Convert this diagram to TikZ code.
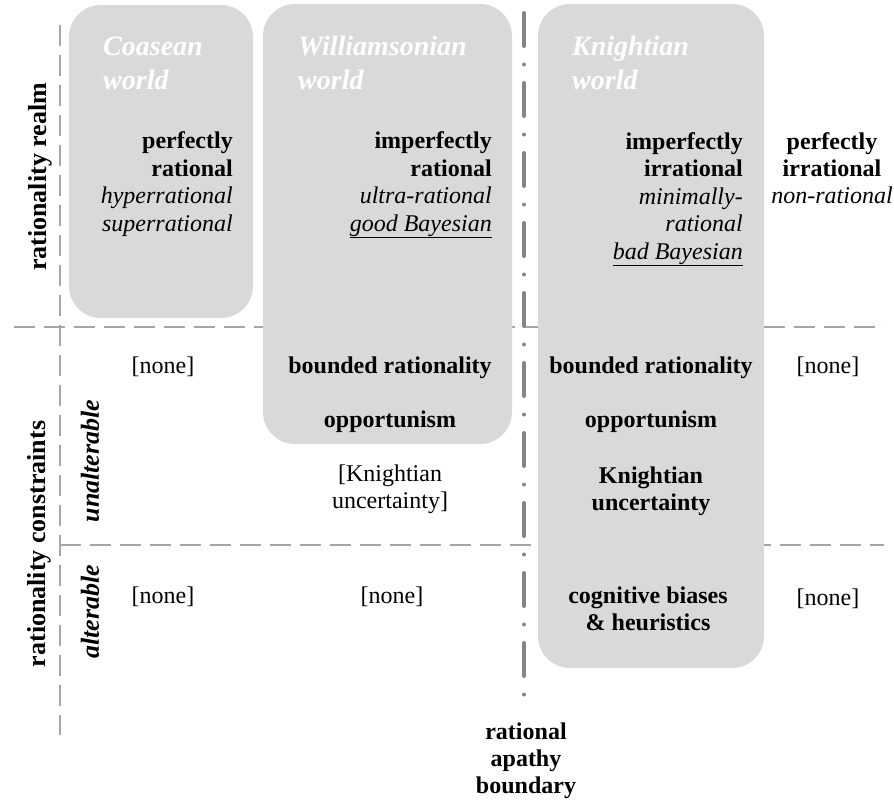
\documentclass[tikz,border=0pt]{standalone}
\usepackage{fontspec}
\setmainfont{Liberation Serif}
\usepackage{xcolor}
\usetikzlibrary{positioning}
\definecolor{boxgray}{HTML}{D9D9D9}
\definecolor{gridgray}{HTML}{A6A6A6}
\definecolor{apathygray}{HTML}{858585}

\begin{document}
\begin{tikzpicture}[x=1pt,y=-1pt,
  world/.style={fill=boxgray, rounded corners=32pt},
  grid line/.style={gridgray, line width=2.5pt, dash pattern=on 21pt off 9pt},
  apathy line/.style={apathygray, line width=4pt, line cap=round, dash pattern=on 33pt off 18.5pt on 0pt off 18.5pt},
  worldname/.style={anchor=base west, inner sep=0, align=left, text=white, font=\fontsize{28}{34}\selectfont\bfseries\itshape},
  realm/.style={anchor=base east, inner sep=0, align=right, font=\fontsize{24}{27.5}\selectfont},
  cell/.style={anchor=base, inner sep=0, align=center, font=\fontsize{24}{27}\selectfont},
  boldcell/.style={cell, font=\fontsize{24}{27}\selectfont\bfseries},
  axis/.style={rotate=90, inner sep=0, font=\fontsize{26}{30}\selectfont\bfseries},
]
\useasboundingbox (0,0) rectangle (894,801);

\draw [grid line] (60,25) -- (60,735);
\draw [grid line] (14,327) -- (884,327);
\draw [grid line] (60,545) -- (884,545);

\fill [world] (69,5) rectangle (253,318);
\fill [world] (263,4) rectangle (512,444);
\fill [world] (538,4) rectangle (764,668);

\draw [apathy line] (524,13) -- (524,697);

% multi-line nodes: base = baseline of the last line
\node [worldname] (coase) at (103,89) {Coasean\\world};
\node [worldname] (williamson) at (298,89) {Williamsonian\\world};
\node [worldname] (knight) at (572,89) {Knightian\\world};

\node [realm] (perfrat) at (233,231) {\textbf{perfectly}\\\textbf{rational}\\\textit{hyperrational}\\\textit{superrational}};
\node [realm] (imperfrat) at (492,231) {\textbf{imperfectly}\\\textbf{rational}\\\textit{ultra-rational}\\\textit{\underline{good Bayesian}}};
\node [realm] (imperfirr) at (743,259) {\textbf{imperfectly}\\\textbf{irrational}\\\textit{minimally-}\\\textit{rational}\\\textit{\underline{bad Bayesian}}};
\node [cell] (perfirr) at (832,203) {\textbf{perfectly}\\\textbf{irrational}\\\textit{non-rational}};

\node [cell] (none1) at (163,373) {[none]};
\node [boldcell] (bounded1) at (390,373) {bounded rationality};
\node [boldcell] (opport1) at (390,427) {opportunism};
\node [cell] (uncert1) at (390,508) {[Knightian\\uncertainty]};
\node [boldcell] (bounded2) at (651,373) {bounded rationality};
\node [boldcell] (opport2) at (651,427) {opportunism};
\node [boldcell] (uncert2) at (651,510) {Knightian\\uncertainty};
\node [cell] (none2) at (828,373) {[none]};

\node [cell] (none3) at (163,603) {[none]};
\node [cell] (none4) at (392,603) {[none]};
\node [boldcell] (biases) at (648,630) {cognitive biases\\\& heuristics};
\node [cell] (none5) at (828,605) {[none]};

\node [axis] (realmlabel) at (40,177) {rationality realm};
\node [axis] (constrlabel) at (39,544) {rationality constraints};
\node [axis, font=\fontsize{26}{30}\selectfont\bfseries\itshape] (unalt) at (90,461) {unalterable};
\node [axis, font=\fontsize{26}{30}\selectfont\bfseries\itshape] (alt) at (90,612) {alterable};

\node [boldcell] (apathy) at (526,793) {rational\\apathy\\boundary};
\end{tikzpicture}
\end{document}
